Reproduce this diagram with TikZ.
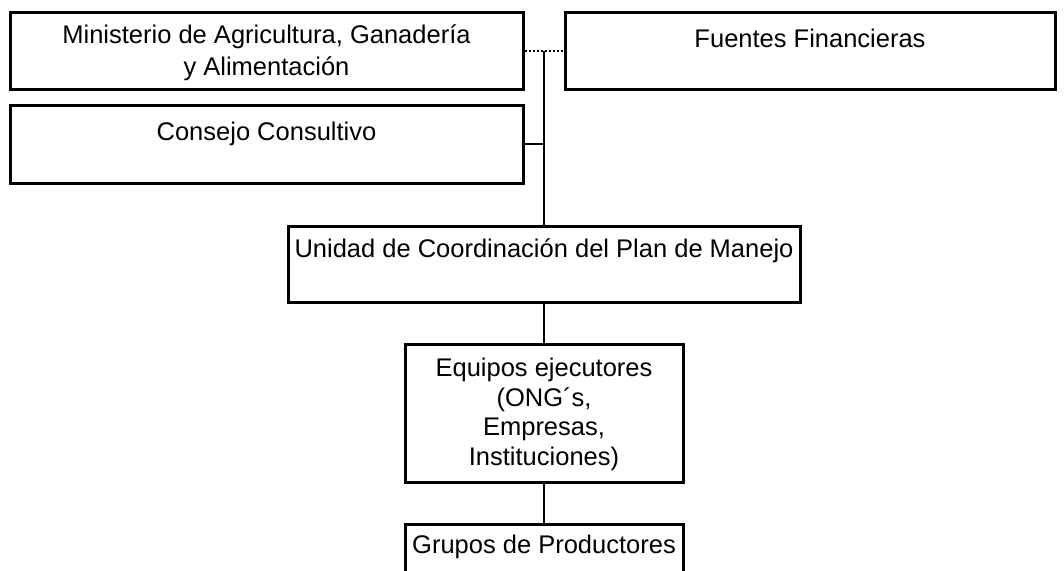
\documentclass[tikz,border=0pt]{standalone}
\usepackage{fontspec}
\setmainfont{Liberation Sans}
\begin{document}
\begin{tikzpicture}[x=1pt,y=-1pt,
  box/.style={draw=black, line width=3pt, rectangle, inner sep=0pt},
  txt/.style={anchor=base, inner sep=0pt, font=\fontsize{25.5}{29.5}\selectfont, align=center},
  conn/.style={draw=black, line width=1.4pt},
  dotconn/.style={draw=black, line width=1.6pt, dash pattern=on 2.5pt off 1.5pt}]
\useasboundingbox (0,0) rectangle (1064,570);
% boxes
\node[box, minimum width=513pt, minimum height=77pt] (min) at (266.5,50.5) {};
\node[box, minimum width=490pt, minimum height=77pt] (fue) at (810,50.5) {};
\node[box, minimum width=513pt, minimum height=78pt] (con) at (266.5,144) {};
\node[box, minimum width=512pt, minimum height=76pt] (uni) at (544,264) {};
\node[box, minimum width=278pt, minimum height=138pt] (equ) at (544,413) {};
\node[box, minimum width=278pt, minimum height=70pt] (gru) at (544,559) {};
% texts (multi-line nodes are placed by the baseline of their last line)
\node[txt] (tmin) at (266.5,75) {Ministerio de Agricultura, Ganadería\\[2pt]y Alimentación};
\node[txt] (tfue) at (810,47) {Fuentes Financieras};
\node[txt] (tcon) at (266.5,140) {Consejo Consultivo};
\node[txt] (tuni) at (544,257) {Unidad de Coordinación del Plan de Manejo};
\node[txt] (tequ) at (544,465) {Equipos ejecutores\\(ONG´s,\\Empresas,\\Instituciones)};
\node[txt] (tgru) at (544,553) {Grupos de Productores};
% connectors
\coordinate (j1) at (544,51);
\coordinate (j2) at (544,144);
\draw[dotconn] (min.east |- j1) -- (fue.west |- j1);
\draw[conn] (j1) -- (uni.north);
\draw[conn] (con.east |- j2) -- (j2);
\draw[conn] (uni.south) -- (equ.north);
\draw[conn] (equ.south) -- (gru.north);
\end{tikzpicture}
\end{document}
